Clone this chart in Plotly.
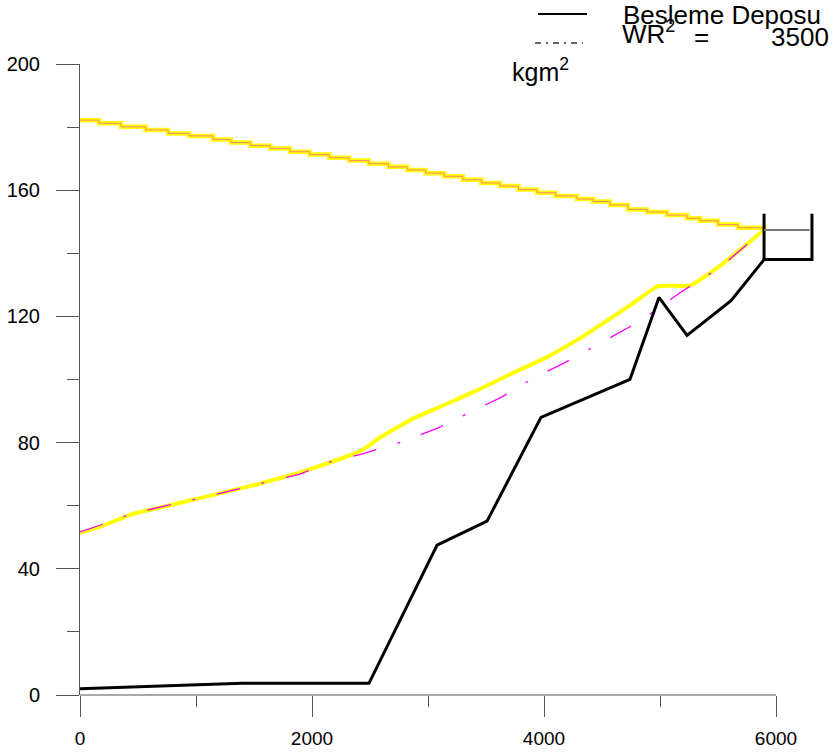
import plotly.graph_objects as go

# ---- data ----
upper_x = [0, 165, 355, 565, 760, 940, 1145, 1300, 1470, 1640, 1810, 1980, 2150, 2320,
           2490, 2660, 2820, 2980, 3140, 3300, 3460, 3620, 3780, 3940, 4100, 4284, 4422,
           4569, 4724, 4888, 5060, 5233, 5345, 5500, 5672, 5897]
upper_y = [182.2, 181.2, 180.1, 179.1, 178.0, 177.2, 176.1, 175.1, 174.1, 173.2, 172.2,
           171.3, 170.3, 169.4, 168.4, 167.4, 166.4, 165.4, 164.4, 163.3, 162.3, 161.3,
           160.2, 159.2, 158.2, 157.2, 156.4, 155.3, 153.9, 153.1, 152.1, 151.1, 150.3,
           149.1, 148.1, 147.4]

lower_x = [0, 172, 457, 750, 1034, 1466, 1897, 2069, 2241, 2414, 2500, 2586, 2871, 3164,
           3448, 3733, 4026, 4310, 4741, 4983, 5259, 5517, 5897]
lower_y = [51.4, 53.3, 57.4, 59.9, 62.4, 66.2, 70.5, 72.6, 74.8, 77.3, 79.3, 81.6, 87.6,
           92.3, 97.0, 102.1, 107.1, 113.1, 123.5, 129.6, 129.8, 136.0, 147.4]

wr_x = [0, 172, 457, 1034, 1897, 2155, 2414, 2586, 2784, 3078, 3353, 3638, 3897, 4172,
        4440, 4629, 4828, 5172, 5517, 5897]
wr_y = [51.7, 53.8, 57.6, 62.4, 70.0, 73.9, 76.2, 78.0, 80.3, 84.5, 89.3, 94.5, 100.2,
        105.2, 110.6, 114.4, 118.5, 127.5, 135.5, 147.4]

ground_x = [0, 1397, 2491, 3078, 3509, 3974, 4741, 4991, 5233, 5612, 5897]
ground_y = [2.0, 3.7, 3.7, 47.5, 55.1, 88.0, 100.0, 126.0, 114.0, 125.0, 138.0]

tank_x = [5897, 5897, 6310, 6310]
tank_y = [152.5, 138.0, 138.0, 152.5]
water_x = [5897, 6290]
water_y = [147.4, 147.4]

x_ticks = [0, 2000, 4000, 6000]
y_ticks = [0, 40, 80, 120, 160, 200]

FONT = "Liberation Sans, Arial, sans-serif"

fig = go.Figure()
fig.add_trace(go.Scatter(x=lower_x, y=lower_y, mode="lines", line_shape="spline",
                         line=dict(color="#ffff00", width=4, smoothing=0.4), hoverinfo="skip"))
fig.add_trace(go.Scatter(x=wr_x, y=wr_y, mode="lines",
                         line=dict(color="#ff00ff", width=1.3, dash="24px,22px,3px,22px"),
                         hoverinfo="skip"))
fig.add_trace(go.Scatter(x=upper_x, y=upper_y, mode="lines", line_shape="hv",
                         line=dict(color="#ffff00", width=4.5), hoverinfo="skip"))
fig.add_trace(go.Scatter(x=upper_x, y=upper_y, mode="lines", line_shape="hv",
                         line=dict(color="#ff33cc", width=1), opacity=0.6, hoverinfo="skip"))
fig.add_trace(go.Scatter(x=ground_x, y=ground_y, mode="lines",
                         line=dict(color="black", width=3), hoverinfo="skip"))
fig.add_trace(go.Scatter(x=tank_x, y=tank_y, mode="lines",
                         line=dict(color="black", width=3), hoverinfo="skip"))
fig.add_trace(go.Scatter(x=water_x, y=water_y, mode="lines",
                         line=dict(color="#777777", width=2), hoverinfo="skip"))

W, H = 833, 753
L, R, T, B = 80, 11, 64, 58
pw, ph = W - L - R, H - T - B


def px(xp):
    return (xp - L) / pw


def py(yp):
    return (H - B - yp) / ph


shapes = [
    # x axis line up to 6000
    dict(type="line", xref="x", yref="paper", x0=0, x1=6000, y0=0, y1=0,
         line=dict(color="#555555", width=1)),
    # legend samples
    dict(type="line", xref="paper", yref="paper", x0=px(538), x1=px(587), y0=py(14), y1=py(14),
         line=dict(color="black", width=2)),
    dict(type="line", xref="paper", yref="paper", x0=px(535), x1=px(583), y0=py(43), y1=py(43),
         line=dict(color="#333333", width=1.3, dash="6px,5px,2px,5px")),
]

ann_font = dict(family=FONT, size=26, color="black")
annotations = [
    dict(text="Besleme Deposu", xref="paper", yref="paper", x=px(621), y=py(15),
         xanchor="left", yanchor="middle", showarrow=False, font=ann_font),
    dict(text="WR<sup>2</sup>", xref="paper", yref="paper", x=px(620), y=py(32),
         xanchor="left", yanchor="middle", showarrow=False, font=ann_font),
    dict(text="=", xref="paper", yref="paper", x=px(701), y=py(37),
         xanchor="center", yanchor="middle", showarrow=False, font=ann_font),
    dict(text="3500", xref="paper", yref="paper", x=px(831), y=py(37),
         xanchor="right", yanchor="middle", showarrow=False, font=ann_font),
    dict(text="kgm<sup>2</sup>", xref="paper", yref="paper", x=px(510), y=py(70),
         xanchor="left", yanchor="middle", showarrow=False,
         font=dict(family=FONT, size=25, color="black")),
]

fig.update_layout(
    width=W, height=H,
    margin=dict(l=L, r=R, t=T, b=B, pad=0),
    paper_bgcolor="white", plot_bgcolor="white",
    showlegend=False,
    shapes=shapes, annotations=annotations,
    font=dict(family=FONT, size=19, color="black"),
    xaxis=dict(range=[0, 6000 * pw / 696], showgrid=False, zeroline=False, showline=False,
               automargin=False,
               tickmode="array", tickvals=x_ticks, ticktext=[str(v) for v in x_ticks],
               ticks="outside", ticklen=21, tickcolor="#555555", tickwidth=1,
               ticklabelstandoff=5,
               minor=dict(tickmode="array", tickvals=[1000, 3000, 5000], ticks="outside",
                          ticklen=11, tickcolor="#555555", tickwidth=1),
               tickfont=dict(family=FONT, size=19, color="black"), fixedrange=True),
    yaxis=dict(range=[0, 200], showgrid=False, zeroline=False, showline=True,
               automargin=False,
               linecolor="#555555", linewidth=1,
               tickmode="array", tickvals=y_ticks, ticktext=[str(v) for v in y_ticks],
               ticks="outside", ticklen=23, tickcolor="#555555", tickwidth=1,
               ticklabelstandoff=12,
               minor=dict(tickmode="array", tickvals=[20, 60, 100, 140, 180], ticks="outside",
                          ticklen=12, tickcolor="#555555", tickwidth=1),
               tickfont=dict(family=FONT, size=20, color="black"), fixedrange=True),
)

fig.write_html("out.html")
